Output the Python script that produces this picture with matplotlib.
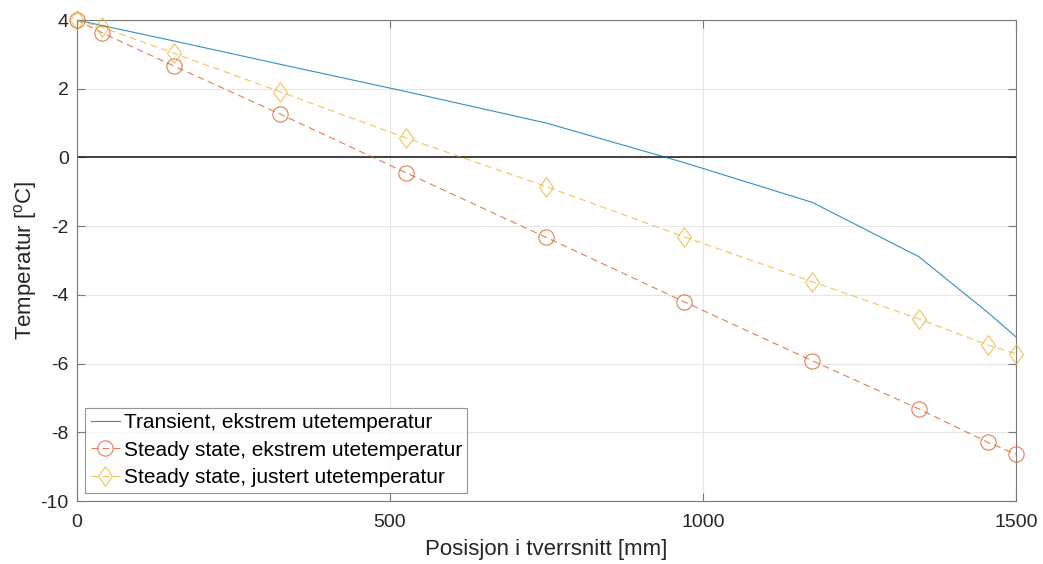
import numpy as np
import matplotlib
matplotlib.use("Agg")
import matplotlib.pyplot as plt
from matplotlib.path import Path

plt.rcParams['font.family'] = ['Liberation Sans', 'DejaVu Sans']
plt.rcParams['mathtext.default'] = 'regular'
plt.rcParams['axes.unicode_minus'] = False

# positions in the cross-section [mm]
pos = [0, 40, 155, 325, 525, 750, 970, 1175, 1345, 1455, 1500]

transient_ext = [4.0, 3.84, 3.39, 2.71, 1.92, 1.0, -0.15, -1.31, -2.89, -4.51, -5.22]
steady_ext = [4.0, 3.63, 2.66, 1.26, -0.44, -2.33, -4.20, -5.92, -7.32, -8.29, -8.64]
steady_adj = [4.0, 3.79, 3.03, 1.91, 0.57, -0.85, -2.31, -3.62, -4.70, -5.46, -5.71]

labels = ["Transient, ekstrem utetemperatur",
          "Steady state, ekstrem utetemperatur",
          "Steady state, justert utetemperatur"]

blue = "#0072BD"
red = "#D95319"
yellow = "#EDB120"

# matlab-like diamond (a bit wider than mpl's thin diamond)
diamond = Path([(0, 1), (0.72, 0), (0, -1), (-0.72, 0), (0, 1)],
               [Path.MOVETO, Path.LINETO, Path.LINETO, Path.LINETO, Path.CLOSEPOLY])

fig = plt.figure(figsize=(10.43, 5.64), dpi=100)
ax = fig.add_axes([0.0738, 0.1117, 0.9002, 0.8528])

ax.axhline(0, color="#222222", lw=1.2, zorder=1)

ax.plot(pos, transient_ext, color=blue, lw=0.8, alpha=0.8, label=labels[0], zorder=3)
ax.plot(pos, steady_ext, color=red, lw=0.8, alpha=0.75, ls=(0, (6, 4)),
        marker="o", ms=11, mfc="none", mec=red, mew=0.8, label=labels[1],
        zorder=3, clip_on=False)
ax.plot(pos, steady_adj, color=yellow, lw=0.8, alpha=0.75, ls=(0, (6, 4)),
        marker=diamond, ms=14, mfc="none", mec=yellow, mew=0.8, label=labels[2],
        zorder=3, clip_on=False)

ax.set_xlim(0, 1500)
ax.set_ylim(-10, 4)
ax.set_xticks([0, 500, 1000, 1500])
ax.set_yticks(np.arange(-10, 5, 2))

ax.grid(True, color="#e6e6e6", lw=0.8)
ax.set_axisbelow(True)
for s in ax.spines.values():
    s.set_color("#7a7a7a")
    s.set_linewidth(0.8)
ax.tick_params(direction="in", length=6, width=0.8, color="#7a7a7a",
               labelsize=14, labelcolor="#262626", top=True, right=True)
ax.tick_params(axis="x", pad=9)
ax.tick_params(axis="y", pad=6)

ax.set_xlabel("Posisjon i tverrsnitt [mm]", fontsize=16, color="#262626", labelpad=6)
ax.set_ylabel("Temperatur [$^{o}$C]", fontsize=16, color="#262626", labelpad=1)

leg = ax.legend(loc="lower left", fontsize=15, frameon=True, fancybox=False,
                edgecolor="#7a7a7a", borderpad=0.25, labelspacing=0.42,
                handlelength=1.4, handletextpad=0.2, borderaxespad=0.4)
leg.get_frame().set_linewidth(0.8)

fig.savefig("out.png", dpi=100)
